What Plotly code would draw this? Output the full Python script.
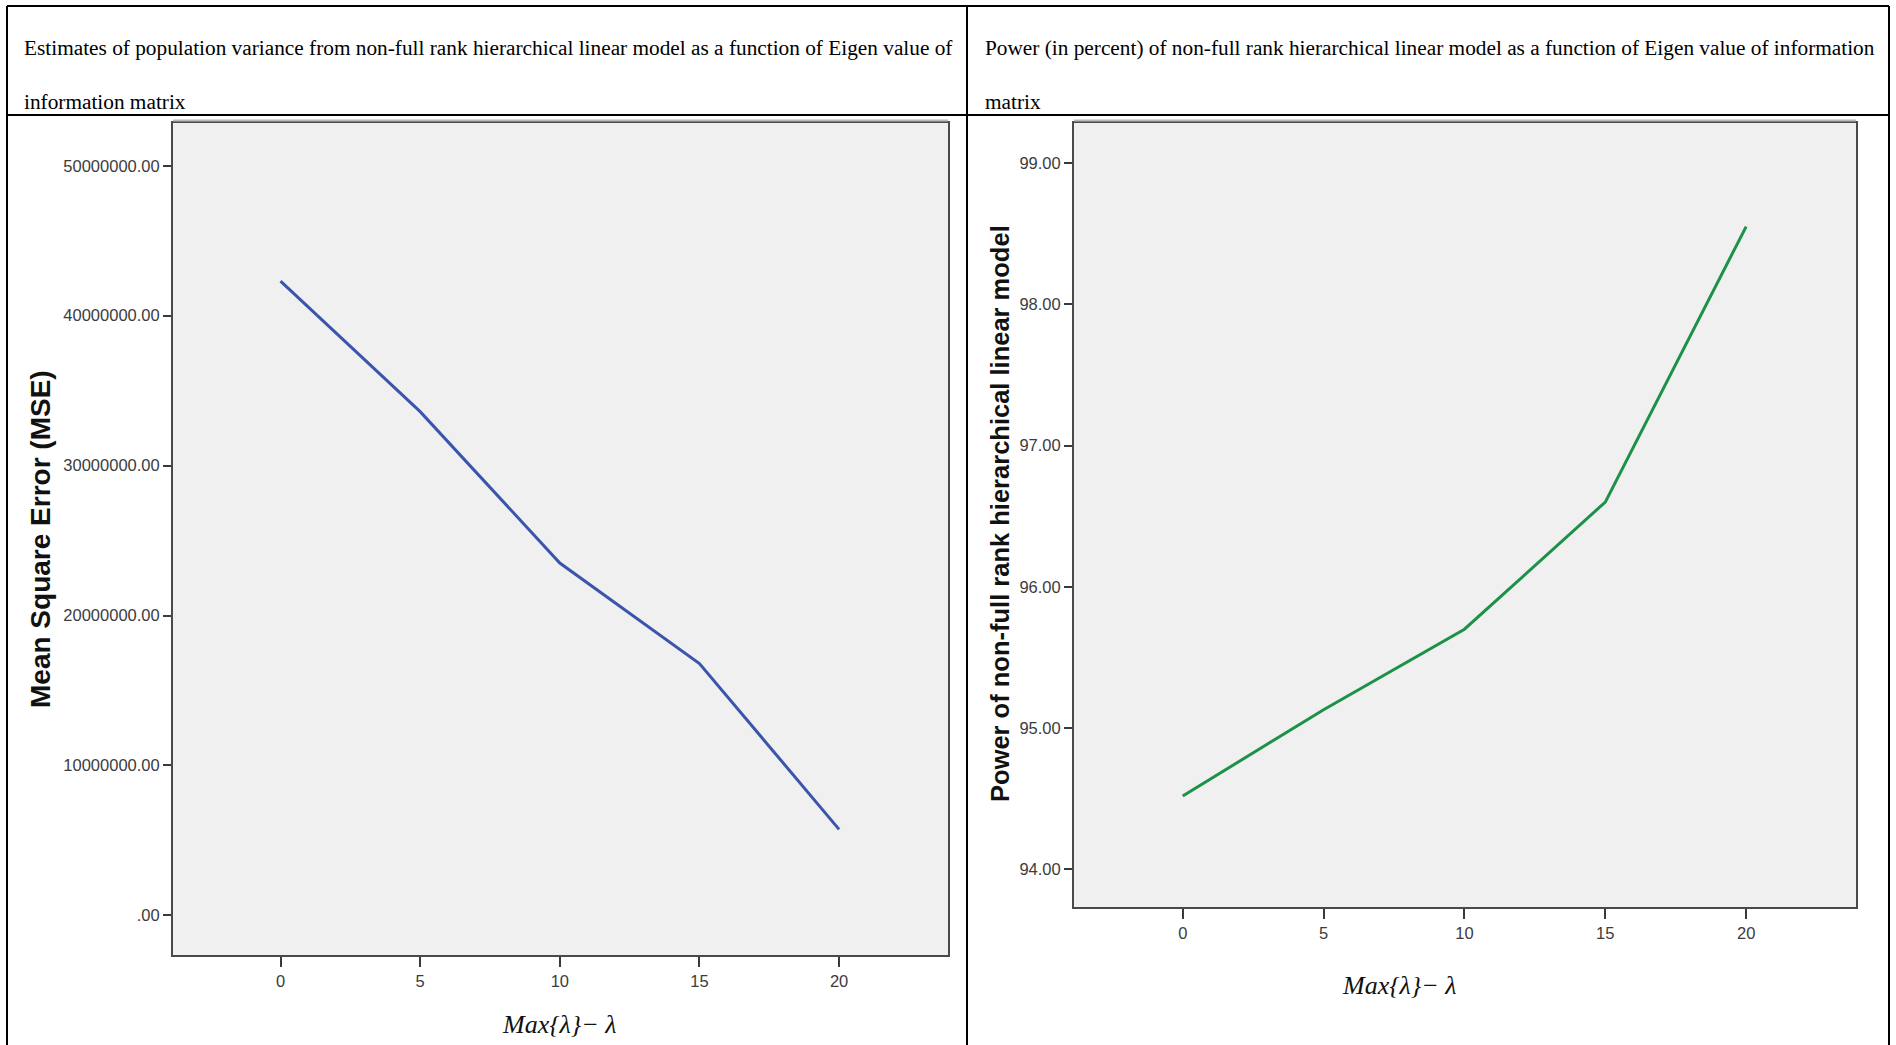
import plotly.graph_objects as go

# ---------------- data ----------------
x_vals = [0, 5, 10, 15, 20]
mse_values = [42300000, 33600000, 23500000, 16800000, 5740000]
power_values = [94.52, 95.13, 95.70, 96.60, 98.55]

mse_tickvals = [0, 10000000, 20000000, 30000000, 40000000, 50000000]
mse_ticktext = [".00", "10000000.00", "20000000.00", "30000000.00", "40000000.00", "50000000.00"]
power_tickvals = [94, 95, 96, 97, 98, 99]
power_ticktext = ["94.00", "95.00", "96.00", "97.00", "98.00", "99.00"]
x_tickvals = [0, 5, 10, 15, 20]

caption_left = ["Estimates of population variance from non-full rank hierarchical linear model as a function of Eigen value of",
                "information matrix"]
caption_right = ["Power (in percent) of non-full rank hierarchical linear model as a function of Eigen value of information",
                 "matrix"]
ytitle_left = "Mean Square Error (MSE)"
ytitle_right = "Power of non-full rank hierarchical linear model"
xtitle = "Max{λ}− λ"

# ---------------- layout helpers ----------------
W, H = 1896, 1045


def px(x):
    return x / W


def py(y):
    return 1 - y / H


BLUE = "#3b55ad"
GREEN = "#1d9147"
TICKFONT = dict(family="Liberation Sans, Arial", size=16.5, color="#3c3c3c")

fig = go.Figure()
fig.add_trace(go.Scatter(x=x_vals, y=mse_values, mode="lines",
                         line=dict(color=BLUE, width=3), xaxis="x", yaxis="y",
                         showlegend=False, hoverinfo="x+y"))
fig.add_trace(go.Scatter(x=x_vals, y=power_values, mode="lines",
                         line=dict(color=GREEN, width=3), xaxis="x2", yaxis="y2",
                         showlegend=False, hoverinfo="x+y"))

common_axis = dict(showgrid=False, zeroline=False, showline=True, linecolor="#4a4a4a",
                   linewidth=2, mirror=True, ticks="outside", tickcolor="#3a3a3a",
                   tickwidth=1.5, tickfont=TICKFONT)

fig.update_layout(
    width=W, height=H,
    margin=dict(l=0, r=0, t=0, b=0),
    paper_bgcolor="white",
    plot_bgcolor="#f0f0f0",
    xaxis=dict(domain=[px(173), px(948)], range=[-3.85, 23.9], tickvals=x_tickvals,
               ticklen=10, anchor="y", **common_axis),
    yaxis=dict(domain=[py(955), py(123)], range=[-2640000, 52850000], tickvals=mse_tickvals,
               ticktext=mse_ticktext, ticklen=8, anchor="x", **common_axis),
    xaxis2=dict(domain=[px(1074), px(1856)], range=[-3.86, 23.9], tickvals=x_tickvals,
                ticklen=10, anchor="y2", **common_axis),
    yaxis2=dict(domain=[py(907), py(123)], range=[93.734, 99.283], tickvals=power_tickvals,
                ticktext=power_ticktext, ticklen=8, anchor="x2", **common_axis),
)

annotations = []
CAP_FONT = dict(family="Liberation Serif, Times New Roman", size=21.3, color="black")
for i, line in enumerate(caption_left):
    annotations.append(dict(text=line, x=px(22), y=py([48, 101.6][i]), xref="paper", yref="paper",
                            xanchor="left", yanchor="middle", showarrow=False, font=CAP_FONT))
for i, line in enumerate(caption_right):
    annotations.append(dict(text=line, x=px(983), y=py([48, 101.6][i]), xref="paper", yref="paper",
                            xanchor="left", yanchor="middle", showarrow=False, font=CAP_FONT))

annotations.append(dict(text="<b>" + ytitle_left + "</b>", x=px(40), y=py(539), xref="paper", yref="paper",
                        textangle=-90, showarrow=False, xanchor="center", yanchor="middle",
                        font=dict(family="Liberation Sans, Arial", size=28, color="#111")))
annotations.append(dict(text="<b>" + ytitle_right + "</b>", x=px(1000), y=py(514), xref="paper", yref="paper",
                        textangle=-90, showarrow=False, xanchor="center", yanchor="middle",
                        font=dict(family="Liberation Sans, Arial", size=25.5, color="#111")))

XT_FONT = dict(family="Liberation Serif, Times New Roman", size=26, color="#111")
annotations.append(dict(text="<i>" + xtitle + "</i>", x=px(559), y=py(1024), xref="paper", yref="paper",
                        showarrow=False, xanchor="center", yanchor="middle", font=XT_FONT))
annotations.append(dict(text="<i>" + xtitle + "</i>", x=px(1399), y=py(985), xref="paper", yref="paper",
                        showarrow=False, xanchor="center", yanchor="middle", font=XT_FONT))
fig.update_layout(annotations=annotations)

# table borders
shapes = []
LINE = dict(color="black", width=2)
shapes.append(dict(type="line", xref="paper", yref="paper", x0=px(7), x1=px(1889), y0=py(6), y1=py(6), line=LINE))
shapes.append(dict(type="line", xref="paper", yref="paper", x0=px(7), x1=px(1889), y0=py(115), y1=py(115), line=LINE))
for xv in (7, 967, 1889):
    shapes.append(dict(type="line", xref="paper", yref="paper", x0=px(xv), x1=px(xv), y0=py(6), y1=0, line=LINE))
# subtle shadow above plot frames
for x0, x1 in ((173, 948), (1074, 1856)):
    shapes.append(dict(type="line", xref="paper", yref="paper", x0=px(x0), x1=px(x1),
                       y0=py(120.5), y1=py(120.5), line=dict(color="#b8b8b8", width=2)))
fig.update_layout(shapes=shapes)

fig.write_html("out.html")
